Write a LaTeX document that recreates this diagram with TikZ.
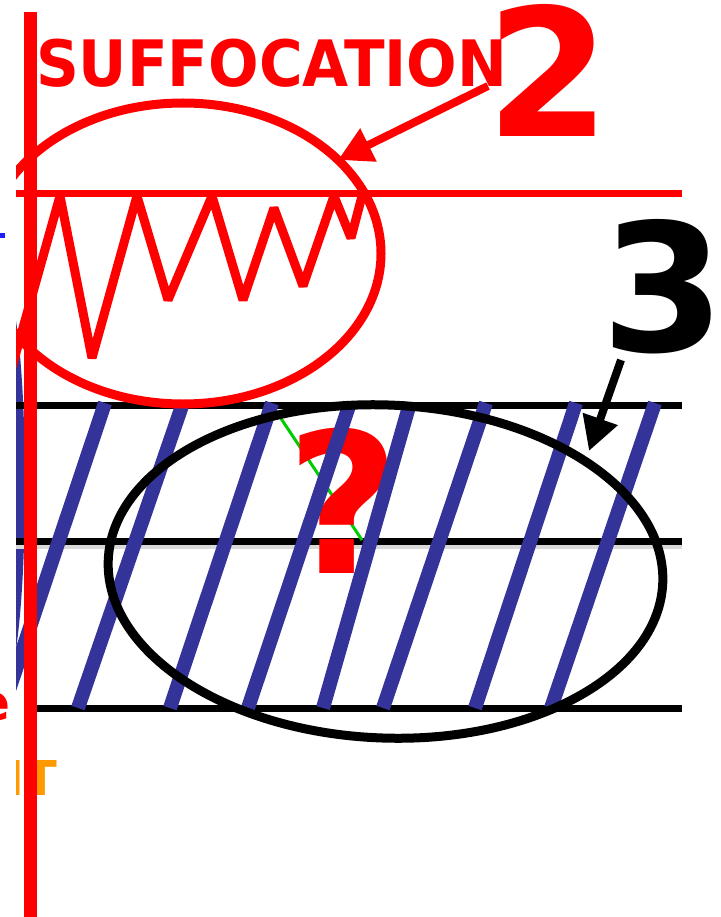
\documentclass[tikz,border=0pt]{standalone}
\usepackage{fontspec}
\setmainfont{DejaVu Sans}
\usetikzlibrary{arrows.meta}
\definecolor{stripeblue}{RGB}{51,51,153}
\definecolor{markblue}{RGB}{30,30,255}
\definecolor{tagorange}{RGB}{255,153,0}
\definecolor{pathgreen}{RGB}{0,204,0}
\newcommand{\bigbold}[1]{\fontsize{#1}{#1}\selectfont\bfseries}

\begin{document}
\begin{tikzpicture}[x=1pt, y=-1pt,
    rule/.style={line width=7pt, black},
    shade/.style={line width=5pt, black!15},
    stripe/.style={line width=14pt, stripeblue},
    redline/.style={line width=9pt, red},
    label/.style={inner sep=0pt, outer sep=0pt},
    pointer/.style={-{Triangle[length=34pt, width=35pt]}, line width=8pt}
]
\useasboundingbox (0,0) rectangle (720,917);

% coordinates used by the connectors
\coordinate (tail2) at (488,86);
\coordinate (tip2) at (338,160);
\coordinate (tail3) at (621,360);
\coordinate (tip3) at (589,451);

% stray marks at the left edge
\fill[markblue] (0,233) rectangle (5,238);
\node[label, text=red, font=\bigbold{50}, anchor=base east] (cut e) at (10,720) {e};

\begin{scope}
\clip (16,0) rectangle (720,917);
\fill[stripeblue] (4,485) ellipse [x radius=21pt, y radius=200pt];
\node[label, text=tagorange, font=\bigbold{48}, anchor=base east] (tag) at (57,795) {IT};

% layers
\draw[shade] (16,546) -- (682,546);
\draw[rule] (16,405) -- (682,405);
\draw[rule] (16,541.5) -- (682,541.5);
\draw[rule] (31,708) -- (682,708);

\draw[pathgreen, line width=3pt] (272,405) -- (362,540);
\node[label, text=red, font=\bigbold{196}, anchor=base] (query) at (343,573) {?};

\foreach \t/\b in {105/3, 183/78, 272/170, 350/248, 410/323, 486/383, 576/475, 655/551}
  \draw[stripe] (\t,403) -- (\b,708);

\draw[black, line width=9pt, rotate around={-2.4:(385.5,571.5)}]
  (385.5,571.5) ellipse [x radius=277.5pt, y radius=166.5pt];

% top layer
\draw[red, line width=7pt] (16,193.5) -- (682,193.5);
\draw[redline, line join=bevel] (12,367) -- (60,196) -- (92,358) -- (137,196) -- (168,300)
  -- (212,196) -- (243,300) -- (274,208) -- (303,286) -- (334,196)
  -- (351,238) -- (362,196);
\draw[redline] (183,253.5) ellipse [x radius=198pt, y radius=150.5pt];
\end{scope}

\draw[red, line width=13pt] (30.5,12) -- (30.5,917);

% labels
\node[label, text=red, font=\bigbold{64}, anchor=base west, xscale=0.93] (suff) at (36,87) {SUFFOCATION};
\node[label, text=red, font=\bigbold{178}, anchor=base] (two) at (548.5,137) {2};
\node[label, text=black, font=\bigbold{178}, anchor=base] (three) at (663.5,351) {3};

\draw[pointer, red] (tail2) -- (tip2);
\draw[pointer, black] (tail3) -- (tip3);
\end{tikzpicture}
\end{document}
